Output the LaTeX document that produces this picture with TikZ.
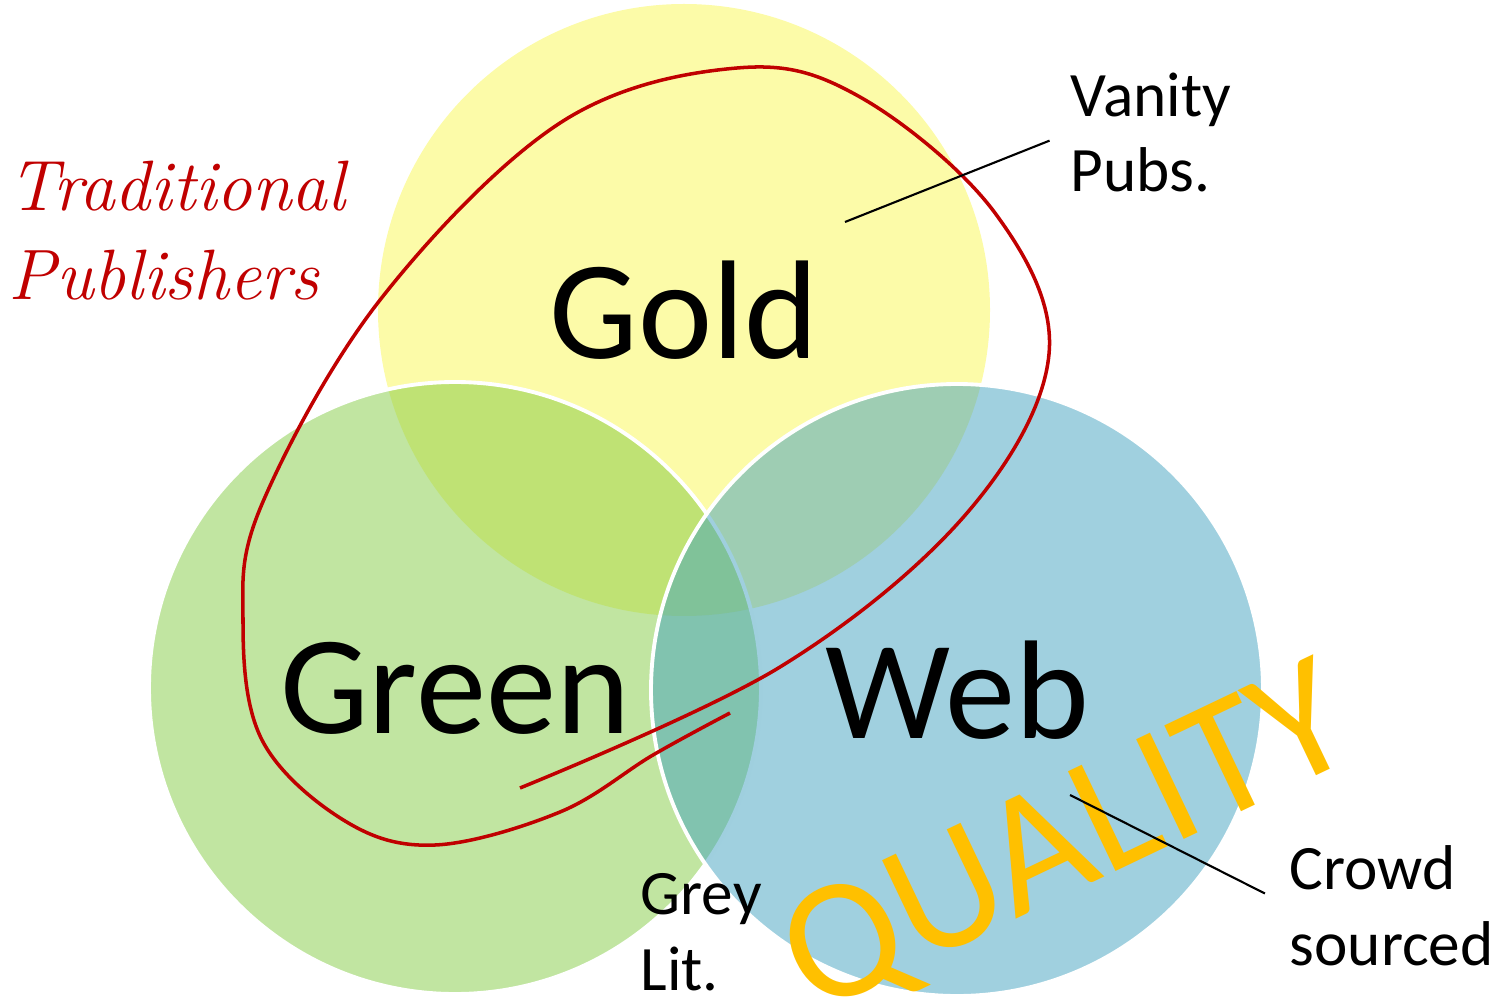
\documentclass[tikz,border=0pt]{standalone}
\usepackage{fontspec}
\newfontfamily\labelfont{Carlito}
\definecolor{goldbase}{RGB}{249,247,81}
\definecolor{greenbase}{RGB}{131,203,67}
\definecolor{webbase}{RGB}{65,161,191}
\definecolor{tradred}{RGB}{192,0,0}
\definecolor{qualgold}{RGB}{255,192,0}
\tikzset{
  venn/.style={circle, minimum size=6.12cm, inner sep=0pt, fill opacity=0.5,
    text opacity=1, font=\labelfont\fontsize{40}{48}\selectfont},
  rim/.style={draw=white, line width=1.1pt},
  side/.style={align=left, inner sep=0pt, font=\labelfont\fontsize{18}{21.5}\selectfont},
  pointer/.style={line width=0.6pt},
}
\begin{document}
\begin{tikzpicture}
  \useasboundingbox (0,0) rectangle (15.04,10.04);
  % the three circles
  \node[venn, fill=goldbase] (gold) at (6.84,6.94) {Gold};
  \node[venn, rim, fill=greenbase] (green) at (4.55,3.16) {Green};
  \node[venn, rim, fill=webbase] (web) at (9.57,3.14) {Web};
  % traditional publishers loop
  \draw[tradred, line width=1pt] plot[smooth, tension=0.6] coordinates {
    (5.20,2.16) (7.80,3.37) (9.67,4.91) (10.49,6.50) (9.95,7.91)
    (8.60,9.07) (7.37,9.36) (5.60,8.81) (3.80,7.04) (2.62,5.00)
    (2.43,3.83) (2.62,2.64) (3.45,1.83) (4.35,1.59) (5.60,1.92)
    (6.53,2.49) (7.30,2.91)};
  \node[anchor=north west, inner sep=0pt, align=left, text=tradred,
    font=\itshape\fontsize{20.3}{25.5}\selectfont] (trad) at (0.08,8.44)
    {Traditional\\Publishers};
  % quality
  \node[rotate=25.5, anchor=base, inner sep=0pt, text=qualgold,
    font=\labelfont\fontsize{49}{58}\selectfont] (qual) at (10.88,1.19) {QUALITY};
  % side labels
  \node[side, anchor=north west] (vanity) at (10.70,9.32) {Vanity\\Pubs.};
  \node[side, anchor=north west] (crowd) at (12.89,1.59) {Crowd\\sourced};
  \node[side, anchor=north west] (grey) at (6.40,1.31) {Grey\\Lit.};
  % pointer lines
  \coordinate (vanitytip) at (8.45,7.82);
  \coordinate (crowdtip) at (10.70,2.09);
  \draw[pointer, shorten >=2.2mm] (vanitytip) -- (vanity.west);
  \draw[pointer, shorten >=2.7mm] (crowdtip) -- (crowd.west);
\end{tikzpicture}
\end{document}
